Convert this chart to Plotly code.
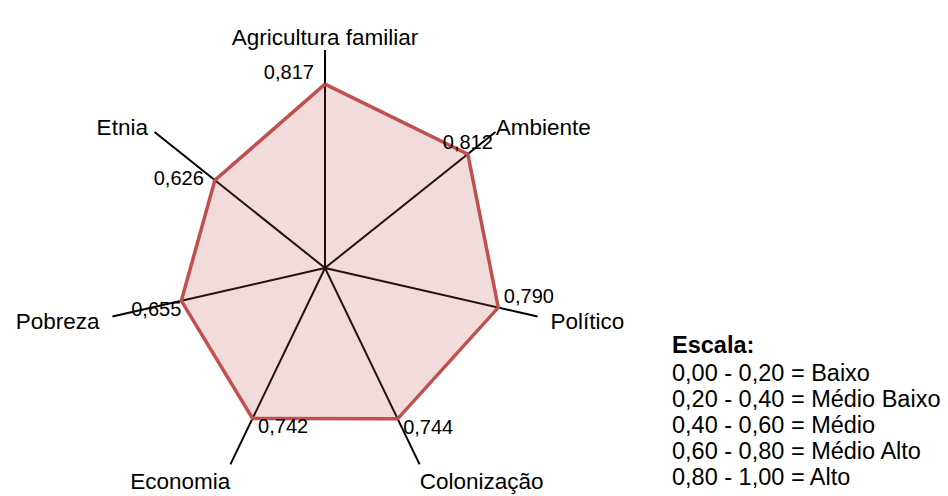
import plotly.graph_objects as go

categorias = ["Agricultura familiar", "Ambiente", "Político", "Colonização",
              "Economia", "Pobreza", "Etnia"]
valores = [0.817, 0.812, 0.790, 0.744, 0.742, 0.655, 0.626]

escala_titulo = "Escala:"
escala_linhas = ["0,00 - 0,20 = Baixo",
                 "0,20 - 0,40 = Médio Baixo",
                 "0,40 - 0,60 = Médio",
                 "0,60 - 0,80 = Médio Alto",
                 "0,80 - 1,00 = Alto"]

NB = "\u00a0"

# rotulos dos valores (virgula decimal) com pequeno afastamento do vertice
rotulos = ["{:.3f}".format(v).replace(".", ",") for v in valores]
rotulos = [rotulos[0] + NB * 2, rotulos[1], NB + rotulos[2], NB + rotulos[3],
           NB + rotulos[4], rotulos[5], rotulos[6] + NB * 2]
posicoes = ["top left", "top center", "top right", "bottom right",
            "bottom right", "bottom left", "middle left"]

# nomes dos eixos um pouco afastados das pontas das linhas
nomes_eixos = [categorias[0], categorias[1], NB * 2 + categorias[2], categorias[3],
               categorias[4], categorias[5] + NB * 2, categorias[6] + NB]

fonte = "Arial, Liberation Sans, sans-serif"

fig = go.Figure()

fig.add_trace(go.Scatterpolar(
    r=valores + valores[:1],
    theta=categorias + categorias[:1],
    mode="lines",
    fill="toself",
    fillcolor="rgba(192,80,77,0.2)",
    line=dict(color="#C0504D", width=3.5),
    hoverinfo="skip",
    showlegend=False,
))

fig.add_trace(go.Scatterpolar(
    r=valores,
    theta=categorias,
    mode="text",
    text=rotulos,
    textposition=posicoes,
    textfont=dict(size=20, color="black", family=fonte),
    hoverinfo="skip",
    showlegend=False,
))

# a pagina desloca o grafico 8px (margem do body)
W, H = 940, 488
cx, cy, raio = 317, 260, 218
escala_px = 225  # pixels por unidade do eixo radial

fig.update_layout(
    width=W,
    height=H,
    margin=dict(l=0, r=0, t=0, b=0),
    paper_bgcolor="white",
    plot_bgcolor="white",
    font=dict(family=fonte, color="black", size=22.5),
    polar=dict(
        domain=dict(x=[(cx - raio) / W, (cx + raio) / W],
                    y=[(H - cy - raio) / H, (H - cy + raio) / H]),
        bgcolor="white",
        radialaxis=dict(visible=False, range=[0, raio / escala_px]),
        angularaxis=dict(
            direction="clockwise",
            rotation=90,
            showline=False,
            showgrid=True,
            gridcolor="black",
            gridwidth=2,
            ticks="",
            tickmode="array",
            tickvals=categorias,
            ticktext=nomes_eixos,
            tickfont=dict(size=22.5, color="black", family=fonte),
        ),
    ),
)

fig.add_annotation(x=662 / W, y=1 - 337 / H, xref="paper", yref="paper",
                   text="<b>" + escala_titulo + "</b>", showarrow=False,
                   xanchor="left", yanchor="middle",
                   font=dict(size=23.5, color="black", family=fonte))
for i, linha in enumerate(escala_linhas):
    fig.add_annotation(x=662 / W, y=1 - (365 + 26 * i) / H,
                       xref="paper", yref="paper", text=linha, showarrow=False,
                       xanchor="left", yanchor="middle",
                       font=dict(size=23.5, color="black", family=fonte))

fig.write_html("out.html")
